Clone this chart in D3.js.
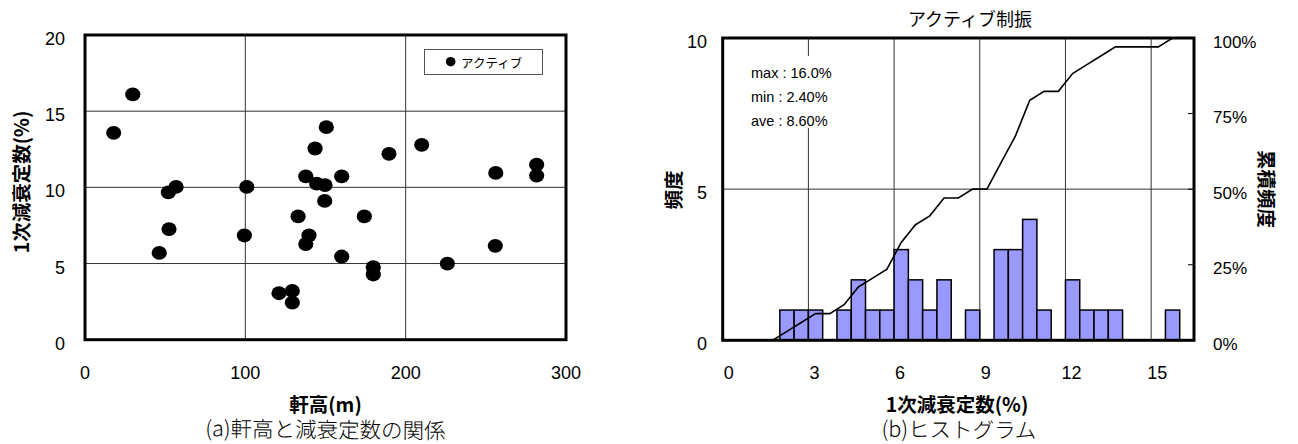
<!DOCTYPE html>
<html lang="ja">
<head>
<meta charset="utf-8">
<script src="https://cdn.jsdelivr.net/npm/d3@7"></script>
<style>
  html, body { margin: 0; padding: 0; background: #fff; }
  svg { display: block; }
  .num { font-family: "Liberation Sans", Arial, sans-serif; fill: #000; }
  .jp { font-family: "Noto Sans CJK JP", "Noto Sans", sans-serif; fill: #000; }
</style>
</head>
<body>
<svg id="chart" width="1298" height="444"></svg>
<script>
// (a) eave height vs. first-mode damping ratio, active control buildings
const eaveHeight = [17.9, 29.8, 46.3, 52.0, 52.4, 56.8, 99.4, 100.9, 121.0, 129.3, 129.3,
  132.9, 137.7, 139.7, 137.7, 143.5, 144.5, 149.7, 149.5, 150.5, 160.1, 160.1, 174.2,
  179.8, 179.8, 189.6, 210.0, 226.0, 256.2, 255.9, 281.7, 281.7];
const dampingRatio = [13.58, 16.1, 5.70, 9.67, 7.26, 10.03, 6.84, 10.03, 3.05, 3.20, 2.43,
  8.09, 10.72, 6.84, 6.28, 12.55, 10.24, 10.14, 9.11, 13.95, 10.72, 5.46, 8.09,
  4.76, 4.28, 12.2, 12.79, 5.0, 10.95, 6.16, 11.49, 10.77];
const scatterXTicks = [0, 100, 200, 300];
const scatterYTicks = [0, 5, 10, 15, 20];
const seriesName = "アクティブ";

// (b) histogram of damping ratio, 0.5 % bins from 0 to 16.5 %
const binStarts = [0, 0.5, 1, 1.5, 2, 2.5, 3, 3.5, 4, 4.5, 5, 5.5, 6, 6.5, 7, 7.5, 8, 8.5,
  9, 9.5, 10, 10.5, 11, 11.5, 12, 12.5, 13, 13.5, 14, 14.5, 15, 15.5, 16];
const binCounts = [0, 0, 0, 0, 1, 1, 1, 0, 1, 2, 1, 1, 3, 2, 1, 2, 0, 1,
  0, 3, 3, 4, 1, 0, 2, 1, 1, 1, 0, 0, 0, 1, 0];
const binWidth = 0.5;
const histXTicks = [0, 3, 6, 9, 12, 15];
const histYTicks = [0, 5, 10];
const cumTicks = [0, 0.25, 0.5, 0.75, 1];
const statLines = ["max : 16.0%", "min : 2.40%", "ave : 8.60%"];

const svg = d3.select("#chart");

function txt(g, x, y, s, cls, size, anchor, weight, rotate, spacing) {
  const t = g.append("text")
    .attr("class", cls)
    .attr("font-size", size)
    .attr("text-anchor", anchor || "middle")
    .attr("dominant-baseline", "central")
    .attr("font-weight", weight || "normal")
    .text(s);
  if (spacing) t.attr("letter-spacing", spacing);
  t.attr("transform", `translate(${x},${y})` + (rotate ? ` rotate(${rotate})` : ""));
  return t;
}

// ---------- (a) scatter ----------
{
  const g = svg.append("g");
  const x = d3.scaleLinear().domain([0, 300]).range([85, 566]);
  const y = d3.scaleLinear().domain([0, 20]).range([339.7, 35]);

  g.append("g").selectAll("line.v").data(scatterXTicks.slice(1, -1)).join("line")
    .attr("x1", d => x(d)).attr("x2", d => x(d))
    .attr("y1", y(20)).attr("y2", y(0))
    .attr("stroke", "#333").attr("stroke-width", 1);
  g.append("g").selectAll("line.h").data(scatterYTicks.slice(1, -1)).join("line")
    .attr("x1", x(0)).attr("x2", x(300))
    .attr("y1", d => y(d)).attr("y2", d => y(d))
    .attr("stroke", "#333").attr("stroke-width", 1);

  // legend
  g.append("rect").attr("x", 424.5).attr("y", 49.5).attr("width", 118).attr("height", 25)
    .attr("fill", "#fff").attr("stroke", "#555").attr("stroke-width", 1);
  g.append("circle").attr("cx", 450.7).attr("cy", 61.7).attr("r", 4.8).attr("fill", "#000");
  txt(g, 461, 62, seriesName, "jp", 12.5, "start");

  g.append("g").selectAll("ellipse").data(eaveHeight).join("ellipse")
    .attr("cx", d => x(d))
    .attr("cy", (d, i) => y(dampingRatio[i]))
    .attr("rx", 7.6).attr("ry", 6.9)
    .attr("fill", "#000");

  g.append("rect").attr("x", x(0)).attr("y", y(20))
    .attr("width", x(300) - x(0)).attr("height", y(0) - y(20))
    .attr("fill", "none").attr("stroke", "#000").attr("stroke-width", 3);

  scatterYTicks.forEach(v => txt(g, 65, y(v) + 4, String(v), "num", 18, "end"));
  scatterXTicks.forEach(v => txt(g, x(v), 373, String(v), "num", 18, "middle"));

  txt(g, 20, 182, "1次減衰定数(%)", "jp", 19.5, "middle", "bold", -90);
  txt(g, (x(0) + x(300)) / 2, 403, "軒高(m)", "jp", 19.5, "middle", "bold");
  txt(g, (x(0) + x(300)) / 2, 428, "(a)軒高と減衰定数の関係", "jp", 21.5, "middle", "300", 0.6);
}

// ---------- (b) histogram ----------
{
  const g = svg.append("g");
  const x = d3.scaleLinear().domain([0, 16.5]).range([722.7, 1194]);
  const y = d3.scaleLinear().domain([0, 10]).range([340.3, 38]);
  const yc = d3.scaleLinear().domain([0, 1]).range([340.3, 38]);

  g.append("g").selectAll("line").data(histXTicks.slice(1)).join("line")
    .attr("x1", d => x(d)).attr("x2", d => x(d))
    .attr("y1", y(10)).attr("y2", y(0))
    .attr("stroke", "#333").attr("stroke-width", 1);
  g.append("g").selectAll("line").data(histYTicks.slice(1, -1)).join("line")
    .attr("x1", x(0)).attr("x2", x(16.5))
    .attr("y1", d => y(d)).attr("y2", d => y(d))
    .attr("stroke", "#333").attr("stroke-width", 1);

  // statistics note (opaque box over the grid)
  g.append("rect").attr("x", 744).attr("y", 56).attr("width", 100).attr("height", 72).attr("fill", "#fff");
  statLines.forEach((s, i) => txt(g, 751, 73 + i * 24, s, "num", 14.5, "start"));

  const bins = binStarts.map((b, i) => ({ b, n: binCounts[i] }));
  g.append("g").selectAll("rect").data(bins.filter(d => d.n > 0)).join("rect")
    .attr("x", d => x(d.b))
    .attr("y", d => y(d.n))
    .attr("width", d => x(d.b + binWidth) - x(d.b))
    .attr("height", d => y(0) - y(d.n))
    .attr("fill", "#9999ff").attr("stroke", "#000").attr("stroke-width", 1.5);

  // cumulative frequency at bin centres
  const total = d3.sum(binCounts);
  const cum = Array.from(d3.cumsum(binCounts), c => c / total);
  const line = d3.line().x(d => x(d.b + binWidth / 2)).y(d => yc(d.c));
  g.append("path").datum(binStarts.map((b, i) => ({ b, c: cum[i] })))
    .attr("d", line).attr("fill", "none").attr("stroke", "#000").attr("stroke-width", 1.6);

  // inner ticks on the secondary axis
  g.append("g").selectAll("line").data(cumTicks).join("line")
    .attr("x1", x(16.5) - 6).attr("x2", x(16.5))
    .attr("y1", d => yc(d)).attr("y2", d => yc(d))
    .attr("stroke", "#000").attr("stroke-width", 1);

  g.append("rect").attr("x", x(0)).attr("y", y(10))
    .attr("width", x(16.5) - x(0)).attr("height", y(0) - y(10))
    .attr("fill", "none").attr("stroke", "#000").attr("stroke-width", 3);

  histYTicks.forEach(v => txt(g, 707, y(v) + 3.5, String(v), "num", 18, "end"));
  histXTicks.forEach(v => txt(g, x(v) + 6, 373, String(v), "num", 18, "middle"));
  cumTicks.forEach(v => txt(g, 1213, yc(v) + 4, d3.format(".0%")(v), "num", 17, "start"));

  txt(g, 970, 18, "アクティブ制振", "jp", 18, "middle");
  txt(g, 672, 190, "頻度", "jp", 19.5, "middle", "bold", -90);
  txt(g, 1267, 189, "累積頻度", "jp", 19.5, "middle", "bold", 90);
  txt(g, 957, 403, "1次減衰定数(%)", "jp", 19.5, "middle", "bold");
  txt(g, 959, 428, "(b)ヒストグラム", "jp", 21.5, "middle", "300", 0.6);
}
</script>
</body>
</html>
